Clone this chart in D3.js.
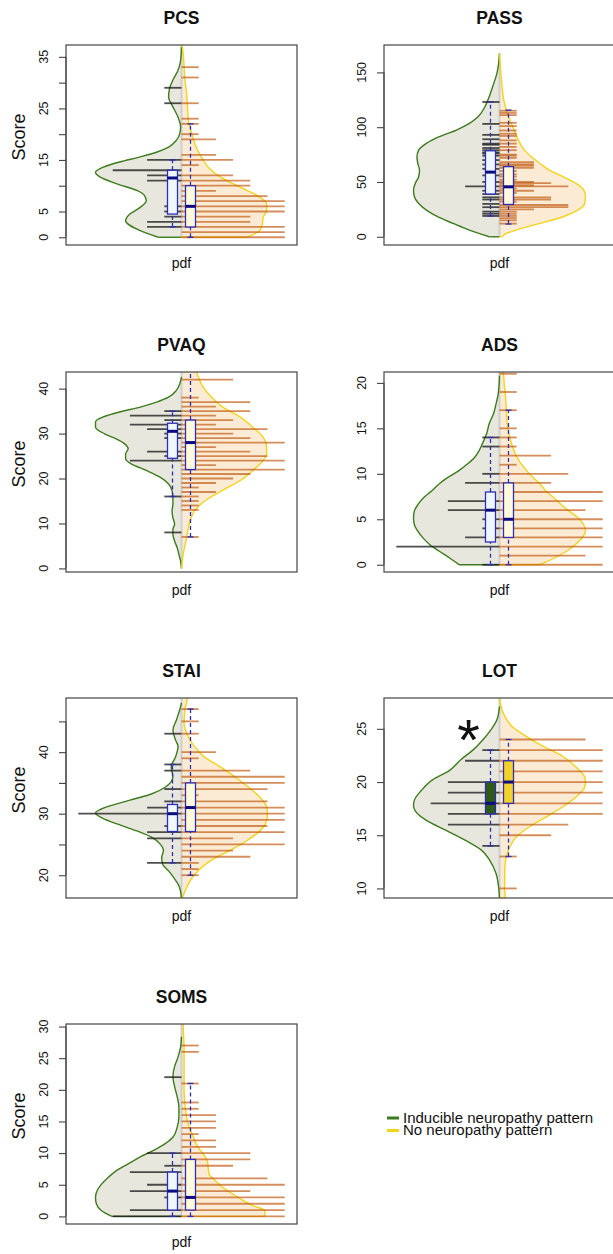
<!DOCTYPE html>
<html><head><meta charset="utf-8">
<script src="https://cdn.jsdelivr.net/npm/d3@7"></script>
<style>
body{margin:0;background:#fff}
svg{display:block}
text{font-family:"Liberation Sans",Arial,Helvetica,sans-serif;fill:#111}
</style>
</head><body>
<svg id="chart" width="613" height="1254"></svg>
<script>
// ---------------- DATA ----------------
const panelNames = ["PCS","PASS","PVAQ","ADS","STAI","LOT","SOMS"];
const groupNames = ["Inducible neuropathy pattern","No neuropathy pattern"];
const xLabel = "pdf";
const yLabel = "Score";

// y-axis limits
const pcsYlim  = [-1.5, 37.3];
const passYlim = [-7.5, 175];
const pvaqYlim = [-0.8, 43.7];
const adsYlim  = [-0.8, 21.2];
const staiYlim = [16.3, 48.8];
const lotYlim  = [9.1, 27.9];
const somsYlim = [-1.2, 30.4];

// ticks and tick labels
const pcsTicks = [0,5,10,15,20,25,30,35];     const pcsTickLabels = ["0","5","","15","","25","","35"];
const passTicks = [0,50,100,150];              const passTickLabels = ["0","50","100","150"];
const pvaqTicks = [0,10,20,30,40];             const pvaqTickLabels = ["0","10","20","30","40"];
const adsTicks = [0,5,10,15,20];               const adsTickLabels = ["0","5","10","15","20"];
const staiTicks = [20,25,30,35,40,45];         const staiTickLabels = ["20","","30","","40",""];
const lotTicks = [10,15,20,25];                const lotTickLabels = ["10","15","20","25"];
const somsTicks = [0,5,10,15,20,25,30];        const somsTickLabels = ["0","5","10","15","20","25","30"];

// densities [score, relative density] : inducible (left) / no pattern (right)
const pcsDensInd = [[0,0.27],[1.3,0.48],[3.2,0.65],[4.5,0.60],[5.8,0.48],[7.1,0.41],[8.1,0.43],[9.1,0.52],[10.4,0.76],[11.7,0.95],[12.6,1.0],[13.6,0.91],[14.6,0.72],[15.6,0.48],[16.5,0.29],[17.5,0.15],[18.8,0.06],[20.1,0.02],[21.4,0.01],[23.3,0.04],[25.3,0.10],[27.2,0.15],[28.8,0.14],[30.5,0.10],[32.4,0.04],[34.3,0.01],[36.9,0]];
const pcsDensNo = [[0,0.76],[1.3,0.91],[2.6,0.94],[3.9,0.95],[5.2,0.99],[6.5,0.99],[7.8,0.91],[9.1,0.76],[10.4,0.60],[11.7,0.45],[13.6,0.31],[15.6,0.23],[17.5,0.17],[20.1,0.12],[22.7,0.08],[25.3,0.07],[27.9,0.06],[30.5,0.04],[33.1,0.03],[35.6,0.02],[36.9,0.01],[38,0]];
const passDensInd = [[0,0.12],[6.1,0.35],[12.2,0.54],[18.3,0.72],[24.3,0.85],[30.4,0.94],[36.5,0.99],[42.6,1.0],[48.7,0.98],[54.8,0.94],[60.8,0.93],[66.9,0.95],[73,0.96],[79.1,0.94],[85.2,0.85],[91.3,0.70],[97.4,0.50],[103.4,0.35],[109.5,0.25],[118.6,0.17],[127.8,0.12],[136.9,0.08],[149.1,0.03],[158.2,0.01],[167.3,0]];
const passDensNo = [[0,0.03],[3,0.08],[6.1,0.19],[12.2,0.47],[18.3,0.74],[24.3,0.91],[30.4,0.99],[36.5,1.0],[42.6,0.98],[48.7,0.89],[54.8,0.74],[60.8,0.58],[66.9,0.47],[73,0.37],[79.1,0.29],[88.2,0.22],[97.4,0.17],[106.5,0.12],[115.6,0.08],[124.7,0.05],[136.9,0.03],[155.2,0.01],[167.3,0]];
const pvaqDensInd = [[0,0],[1.6,0.01],[3.1,0.03],[4.6,0.05],[6.1,0.08],[7.6,0.10],[8.7,0.10],[9.8,0.08],[11.3,0.10],[12.8,0.11],[14.3,0.10],[15.8,0.10],[17.3,0.11],[18.8,0.15],[20.3,0.25],[21.8,0.41],[23.2,0.58],[24.4,0.65],[25.5,0.65],[26.6,0.62],[27.7,0.66],[28.8,0.76],[29.9,0.89],[31.4,1.0],[32.6,1.0],[33.7,0.91],[34.8,0.72],[35.9,0.48],[37.0,0.29],[38.1,0.15],[39.6,0.06],[41.1,0.02],[42.6,0]];
const pvaqDensNo = [[0,0],[3.1,0.02],[6.9,0.06],[10.6,0.10],[12.8,0.15],[15.0,0.27],[17.3,0.47],[19.5,0.68],[21.8,0.83],[24.0,0.95],[25.5,0.99],[27.0,0.99],[29.2,0.95],[31.4,0.83],[33.7,0.68],[35.9,0.48],[38.1,0.35],[40.4,0.25],[41.9,0.21],[43.4,0.18],[45,0.14]];
const adsDensInd = [[0,0.47],[0.74,0.58],[1.48,0.70],[2.2,0.81],[2.95,0.89],[3.7,0.95],[4.4,0.99],[5.2,1.0],[5.9,0.99],[6.6,0.95],[7.4,0.88],[8.1,0.79],[8.9,0.70],[9.6,0.60],[10.3,0.48],[11.1,0.37],[11.8,0.29],[12.5,0.24],[13.3,0.20],[14.4,0.15],[15.5,0.12],[16.6,0.07],[17.7,0.04],[18.8,0.015],[19.9,0.004],[20.8,0]];
const adsDensNo = [[0,0.47],[0.74,0.64],[1.48,0.78],[2.2,0.88],[2.95,0.96],[3.7,1.0],[4.4,0.98],[5.2,0.91],[5.9,0.81],[6.6,0.72],[7.4,0.63],[8.1,0.54],[8.9,0.47],[9.6,0.39],[10.3,0.32],[11.4,0.23],[12.5,0.17],[14.0,0.12],[15.5,0.09],[17.0,0.08],[18.5,0.07],[19.9,0.055],[21.0,0.047],[22,0.04]];
const staiDensInd = [[16.3,0],[18.3,0.03],[19.6,0.09],[20.7,0.15],[21.8,0.22],[22.9,0.23],[24.0,0.21],[25.1,0.25],[26.2,0.35],[27.2,0.52],[28.3,0.74],[29.2,0.91],[30.1,1.0],[31.1,0.87],[32.2,0.60],[33.2,0.35],[34.3,0.19],[36.0,0.10],[37.6,0.12],[39.2,0.07],[40.9,0.04],[42.0,0.07],[43.6,0.10],[45.2,0.06],[46.9,0.02],[48,0]];
const staiDensNo = [[16.3,0.01],[17.4,0.04],[19.1,0.10],[20.7,0.19],[22.3,0.33],[24.0,0.56],[25.6,0.76],[27.2,0.91],[28.9,0.99],[30.0,1.0],[31.1,0.99],[32.7,0.91],[34.3,0.78],[36.0,0.62],[37.6,0.45],[39.2,0.27],[40.9,0.15],[42.5,0.08],[44.7,0.03],[46.9,0.04],[48.8,0.07],[50,0.08]];
const lotDensInd = [[9.1,0],[10.1,0.01],[11.4,0.04],[12.6,0.11],[13.6,0.21],[14.5,0.39],[15.45,0.62],[16.4,0.85],[17.3,0.98],[17.8,1.0],[18.3,0.99],[19.2,0.91],[20.2,0.78],[21.1,0.58],[22.1,0.45],[23.0,0.31],[24.0,0.19],[24.9,0.10],[25.85,0.03],[27.1,0]];
const lotDensNo = [[9.1,0.07],[10.1,0.06],[11.4,0.06],[12.6,0.07],[13.9,0.12],[14.8,0.19],[15.8,0.35],[16.7,0.54],[17.7,0.74],[18.6,0.89],[19.5,0.99],[20.0,1.0],[20.5,0.99],[21.4,0.89],[22.4,0.74],[23.3,0.52],[24.3,0.31],[25.2,0.15],[26.2,0.06],[27.4,0.01],[28,0]];
const somsDensInd = [[0,0.81],[0.9,0.93],[2.0,0.99],[3.0,1.0],[4.1,0.98],[5.1,0.93],[6.2,0.85],[7.2,0.76],[8.3,0.62],[9.4,0.48],[10.4,0.33],[11.5,0.19],[12.5,0.10],[14.1,0.05],[15.7,0.03],[17.3,0.03],[18.9,0.05],[20.5,0.08],[22.1,0.10],[23.7,0.08],[25.2,0.04],[26.8,0.01],[28.4,0]];
const somsDensNo = [[0,0.97],[0.9,0.97],[1.7,0.83],[2.5,0.72],[3.5,0.60],[4.6,0.48],[5.7,0.39],[6.7,0.32],[7.8,0.31],[8.8,0.30],[9.9,0.25],[11.0,0.19],[12.5,0.14],[14.1,0.09],[15.7,0.06],[17.8,0.04],[19.9,0.03],[22.6,0.03],[24.7,0.03],[26.8,0.03],[30.0,0.02],[31,0.02]];

// bean lines [score, number of observations]
const pcsRugInd = [[29,1],[26,1],[15,2],[13,4],[12,2],[11,2],[6,1],[5,1],[4,1],[3,2],[2,2]];
const pcsRugNo = [[33,1],[31,1],[26,1],[23,1],[22,1],[20,1],[19,2],[16,2],[15,3],[14,1],[12,3],[11,4],[10,4],[9,2],[8,5],[7,6],[6,6],[5,6],[4,4],[3,4],[2,6],[1,6],[0,6]];
const passRugInd = [[123,1],[103,1],[93,1],[89,1],[85,1],[84,1],[81,1],[79,1],[77,1],[76,1],[74,1],[70,1],[66,1],[62,1],[56,1],[50,1],[46,2],[42,1],[39,1],[36,1],[34,1],[30,1],[27,1],[23,1],[21,1],[19,1]];
const passRugNo = [[115,1],[113,1],[111,1],[104,1],[101,1],[97,1],[94,1],[92,1],[88,1],[85,1],[82,1],[79,1],[75,1],[74,1],[72,1],[68,2],[66,2],[65,2],[63,2],[60,1],[57,1],[55,1],[52,1],[50,2],[49,3],[47,2],[46,4],[44,1],[42,2],[40,1],[36,3],[34,3],[32,1],[29,4],[27,4],[25,2],[23,1],[21,1],[19,1],[17,1],[15,1],[12,1]];
const pvaqRugInd = [[35,1],[34,3],[33,1],[32,3],[31,2],[30,1],[29,1],[26,2],[25,1],[24,3],[16,1],[8,1]];
const pvaqRugNo = [[42,3],[38,1],[37,4],[36,2],[35,4],[34,2],[33,3],[32,2],[31,5],[30,3],[29,4],[28,6],[27,2],[26,4],[25,5],[24,6],[23,2],[22,6],[21,4],[20,3],[19,2],[18,1],[17,2],[16,1],[15,1],[14,1],[13,1],[7,1]];
const adsRugInd = [[14,1],[13,1],[10,1],[9,2],[7,3],[6,3],[5,1],[4,1],[3,2],[2,6],[0,1]];
const adsRugNo = [[21,1],[19,1],[17,1],[15,1],[14,1],[13,1],[12,3],[11,1],[10,4],[9,3],[8,6],[7,6],[6,5],[5,6],[4,6],[3,6],[2,6],[1,5],[0,6]];
const staiRugInd = [[43,1],[38,1],[37,1],[34,1],[32,1],[31,2],[30,6],[28,1],[27,2],[26,2],[22,2]];
const staiRugNo = [[47,1],[45,1],[43,1],[40,2],[39,1],[37,4],[36,6],[35,6],[34,5],[33,1],[32,5],[31,6],[30,6],[29,6],[28,5],[27,6],[26,3],[25,6],[24,3],[23,4],[22,1],[21,1],[20,1]];
const lotRugInd = [[23,1],[22,2],[20,3],[19,3],[18,4],[17,3],[16,3],[14,1]];
const lotRugNo = [[24,5],[23,6],[22,6],[21,6],[20,6],[19,6],[18,6],[17,6],[16,4],[15,3],[13,1],[10,1],[9,1]];
const somsRugInd = [[22,1],[10,2],[8,1],[7,3],[5,2],[4,3],[3,1],[1,3],[0,4]];
const somsRugNo = [[27,1],[26,1],[21,1],[18,1],[17,1],[16,2],[15,2],[14,2],[13,1],[12,2],[11,2],[10,4],[9,4],[8,3],[6,5],[5,6],[4,4],[3,6],[2,6],[1,6],[0,6]];

// box statistics [lower whisker, Q1, median, Q3, upper whisker]
const pcsBoxInd = [2,4.5,11.5,13,15];      const pcsBoxNo = [0,2,6,10,22];
const passBoxInd = [19,39,59,78.5,123];    const passBoxNo = [11.6,29.5,45.6,64,115.6];
const pvaqBoxInd = [16,24.5,30.5,32.3,35]; const pvaqBoxNo = [7,22,28,33,44];
const adsBoxInd = [0,2.5,6,8,14];          const adsBoxNo = [0,3,5,9,17];
const staiBoxInd = [22,27.1,30,31.5,38];   const staiBoxNo = [20,27.1,31,35,47];
const lotBoxInd = [14,17,18,20,23];        const lotBoxNo = [13,18,20,22,24];
const somsBoxInd = [0,1,4,7,10];           const somsBoxNo = [0,1,3,9,21];

const significant = ["LOT"];
const sigMark = "*";

// ---------------- LAYOUT / STYLE ----------------
const colLeft = [66, 384];
const rowTop = [45, 372, 698, 1024];
const PW = 231, PH = 200;
const halfBean = 86, rugUnit = 17.2;
const boxOff = 9, boxW = 10, capW = 6;

const fillInd = "#e8e7de", fillNo = "#fbebd5";
const lineInd = "#3d7b1e", lineNo = "#f2d41a";
const rugInd = "#1c1c1c", rugNo = "#c05810";
const boxStroke = "#2e2eb4", medColor = "#0b0b82";

const panels = [
  {name:panelNames[0], ylim:pcsYlim, ticks:pcsTicks, labels:pcsTickLabels, dI:pcsDensInd, dN:pcsDensNo, rI:pcsRugInd, rN:pcsRugNo, bI:pcsBoxInd, bN:pcsBoxNo},
  {name:panelNames[1], ylim:passYlim, ticks:passTicks, labels:passTickLabels, dI:passDensInd, dN:passDensNo, rI:passRugInd, rN:passRugNo, bI:passBoxInd, bN:passBoxNo},
  {name:panelNames[2], ylim:pvaqYlim, ticks:pvaqTicks, labels:pvaqTickLabels, dI:pvaqDensInd, dN:pvaqDensNo, rI:pvaqRugInd, rN:pvaqRugNo, bI:pvaqBoxInd, bN:pvaqBoxNo},
  {name:panelNames[3], ylim:adsYlim, ticks:adsTicks, labels:adsTickLabels, dI:adsDensInd, dN:adsDensNo, rI:adsRugInd, rN:adsRugNo, bI:adsBoxInd, bN:adsBoxNo},
  {name:panelNames[4], ylim:staiYlim, ticks:staiTicks, labels:staiTickLabels, dI:staiDensInd, dN:staiDensNo, rI:staiRugInd, rN:staiRugNo, bI:staiBoxInd, bN:staiBoxNo},
  {name:panelNames[5], ylim:lotYlim, ticks:lotTicks, labels:lotTickLabels, dI:lotDensInd, dN:lotDensNo, rI:lotRugInd, rN:lotRugNo, bI:lotBoxInd, bN:lotBoxNo},
  {name:panelNames[6], ylim:somsYlim, ticks:somsTicks, labels:somsTickLabels, dI:somsDensInd, dN:somsDensNo, rI:somsRugInd, rN:somsRugNo, bI:somsBoxInd, bN:somsBoxNo}
];

const svg = d3.select("#chart");
const defs = svg.append("defs");

panels.forEach((p, i) => {
  const col = i % 2, row = Math.floor(i / 2);
  const left = colLeft[col], top = rowTop[row];
  const cx = left + PW / 2;
  const y = d3.scaleLinear().domain(p.ylim).range([top + PH, top]);
  const w = d3.scaleLinear().domain([0, 1]).range([0, halfBean]);
  const len = d3.scaleLinear().domain([0, 1]).range([0, rugUnit]);
  const sig = significant.includes(p.name);

  const clipId = "clip" + i;
  defs.append("clipPath").attr("id", clipId).append("rect")
    .attr("x", left).attr("y", top).attr("width", PW).attr("height", PH);
  const g = svg.append("g");
  const pg = g.append("g").attr("clip-path", `url(#${clipId})`);

  const halves = [
    {dens: p.dI, dir: -1, fill: fillInd, stroke: lineInd, rug: p.rI, rugC: rugInd, rugO: 0.78},
    {dens: p.dN, dir: 1, fill: fillNo, stroke: lineNo, rug: p.rN, rugC: rugNo, rugO: 0.68}
  ];
  // bean fills
  halves.forEach(h => {
    const pts = h.dens.slice().sort((a, b) => b[0] - a[0]);
    const area = d3.area().curve(d3.curveMonotoneY)
      .y(d => y(d[0])).x0(cx).x1(d => cx + h.dir * w(d[1]));
    pg.append("path").attr("d", area(pts)).attr("fill", h.fill);
  });
  // center line
  const vmin = Math.min(p.dI[0][0], p.dN[0][0]);
  const vmax = Math.max(p.dI[p.dI.length - 1][0], p.dN[p.dN.length - 1][0]);
  pg.append("line").attr("x1", cx).attr("x2", cx).attr("y1", y(vmin)).attr("y2", y(vmax))
    .attr("stroke", "#cfcfcf").attr("stroke-width", 2);
  // outlines
  halves.forEach(h => {
    const pts = h.dens.slice().sort((a, b) => b[0] - a[0]);
    const line = d3.line().curve(d3.curveMonotoneY)
      .x(d => cx + h.dir * w(d[1])).y(d => y(d[0]));
    pg.append("path").attr("d", line(pts)).attr("fill", "none")
      .attr("stroke", h.stroke).attr("stroke-width", 1.4);
    const lo = pts[pts.length - 1], hi = pts[0];
    [lo, hi].forEach(e => {
      if (e[1] > 0) pg.append("line").attr("x1", cx).attr("x2", cx + h.dir * w(e[1]))
        .attr("y1", y(e[0])).attr("y2", y(e[0])).attr("stroke", h.stroke).attr("stroke-width", 1.4);
    });
  });
  // bean lines
  halves.forEach(h => {
    pg.append("g").selectAll("line").data(h.rug).join("line")
      .attr("x1", cx).attr("x2", d => cx + h.dir * len(d[1]))
      .attr("y1", d => y(d[0])).attr("y2", d => y(d[0]))
      .attr("stroke", h.rugC).attr("stroke-opacity", h.rugO).attr("stroke-width", 1.8);
  });
  // boxplots
  [[p.bI, -boxOff, sig ? "#2d5c12" : "#eef7ff"], [p.bN, boxOff, sig ? "#f0d22a" : "#fdf9dc"]].forEach(([b, off, fill]) => {
    const bx = cx + off;
    const bg = pg.append("g");
    bg.append("line").attr("x1", bx).attr("x2", bx).attr("y1", y(b[0])).attr("y2", y(b[1]))
      .attr("stroke", boxStroke).attr("stroke-width", 1.3).attr("stroke-dasharray", "4,3");
    bg.append("line").attr("x1", bx).attr("x2", bx).attr("y1", y(b[3])).attr("y2", y(b[4]))
      .attr("stroke", boxStroke).attr("stroke-width", 1.3).attr("stroke-dasharray", "4,3");
    [b[0], b[4]].forEach(v => bg.append("line").attr("x1", bx - capW / 2).attr("x2", bx + capW / 2)
      .attr("y1", y(v)).attr("y2", y(v)).attr("stroke", boxStroke).attr("stroke-width", 1.3));
    bg.append("rect").attr("x", bx - boxW / 2).attr("width", boxW)
      .attr("y", y(b[3])).attr("height", y(b[1]) - y(b[3]))
      .attr("fill", fill).attr("stroke", boxStroke).attr("stroke-width", 1.3);
    bg.append("line").attr("x1", bx - boxW / 2).attr("x2", bx + boxW / 2)
      .attr("y1", y(b[2])).attr("y2", y(b[2])).attr("stroke", medColor).attr("stroke-width", 3);
  });

  // frame
  g.append("rect").attr("x", left).attr("y", top).attr("width", PW).attr("height", PH)
    .attr("fill", "none").attr("stroke", "#444").attr("stroke-width", 1.2);
  // y axis
  const ax = g.append("g").attr("transform", `translate(${left},0)`)
    .call(d3.axisLeft(y).tickValues(p.ticks).tickSize(7).tickFormat(""));
  ax.select(".domain").attr("stroke", "#444").attr("d", `M0,${y(p.ticks[0])}V${y(p.ticks[p.ticks.length - 1])}`);
  ax.selectAll(".tick line").attr("stroke", "#444").attr("stroke-width", 1.1);
  g.selectAll(".ylab").data(p.ticks.map((t, k) => [t, p.labels[k]]).filter(d => d[1] !== ""))
    .join("text")
    .attr("transform", d => `translate(${left - 18},${y(d[0])}) rotate(-90)`)
    .attr("text-anchor", "middle").attr("font-size", 12.5).text(d => d[1]);

  // titles
  g.append("text").attr("x", cx).attr("y", top - 21).attr("text-anchor", "middle")
    .attr("font-size", 17.5).attr("font-weight", "bold").text(p.name);
  g.append("text").attr("x", cx).attr("y", top + 223).attr("text-anchor", "middle")
    .attr("font-size", 14).text(xLabel);
  if (col === 0) {
    g.append("text").attr("transform", `translate(25,${top + 92}) rotate(-90)`)
      .attr("text-anchor", "middle").attr("font-size", 18).text(yLabel);
  }
  if (sig) {
    g.append("text").attr("x", cx - 31).attr("y", y(24.7) + 28).attr("text-anchor", "middle")
      .attr("font-family", "DejaVu Sans").attr("font-size", 58).text(sigMark);
  }
});

// legend
const legColors = [lineInd, lineNo];
const lg = svg.append("g");
groupNames.forEach((n, k) => {
  const yy = 1118 + k * 12.5;
  lg.append("line").attr("x1", 387).attr("x2", 399).attr("y1", yy).attr("y2", yy)
    .attr("stroke", legColors[k]).attr("stroke-width", 3);
  lg.append("text").attr("x", 403).attr("y", yy + 4.8).attr("font-size", 15).text(n);
});
</script>
</body></html>
